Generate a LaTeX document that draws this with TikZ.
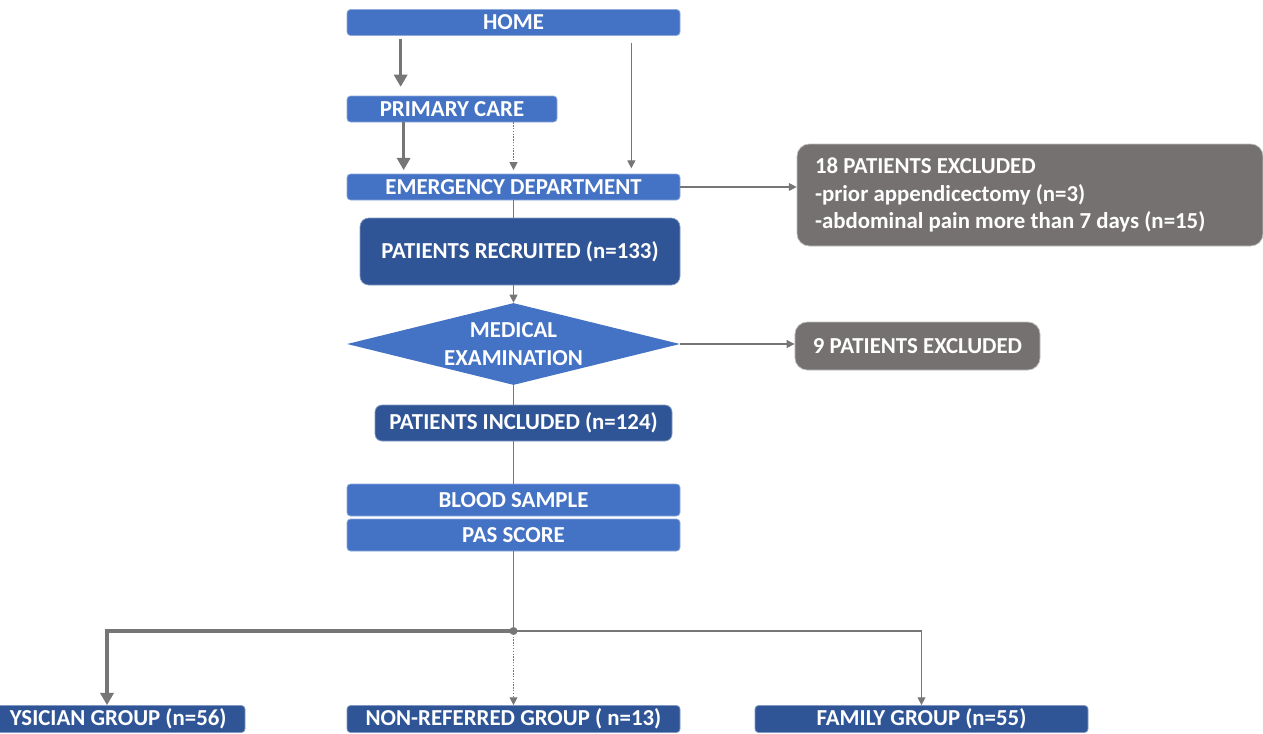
\documentclass[tikz,border=0pt]{standalone}
\usepackage{fontspec}
\setmainfont{Carlito}
\usetikzlibrary{positioning,shapes.geometric,arrows.meta}
\definecolor{stageblue}{HTML}{4472C4}
\definecolor{groupblue}{HTML}{2F5597}
\definecolor{exclgray}{HTML}{767171}
\definecolor{linegray}{HTML}{767676}
\providecommand\mytextsize{\fontsize{13}{15.5}\selectfont}

\begin{document}
\begin{tikzpicture}[on grid, font=\bfseries\mytextsize]
  \tikzstyle{stage} = [rectangle, draw=stageblue!60!white, fill=stageblue, text=white, rounded corners=2pt,
                                    minimum width=6.66cm, minimum height=0.52cm, inner sep=0pt]
  \tikzstyle{group} = [stage, draw=groupblue!60!white, fill=groupblue]
  \tikzstyle{decision} = [diamond, aspect=4, fill=stageblue, text=white, align=center,
                                    minimum width=6.66cm, minimum height=1.64cm, inner sep=0pt]
  \tikzstyle{excluded} = [rectangle, draw=gray!50, fill=exclgray, text=white, rounded corners=7pt,
                                    inner xsep=0.36cm, inner ysep=0pt]
  \tikzstyle{flow} = [draw=linegray, line width=0.6pt, -{Triangle[width=4.5pt,length=4.5pt]}]
  \tikzstyle{mainflow} = [draw=linegray, line width=1.8pt, -{Triangle[width=7.5pt,length=7pt]}]
  \tikzstyle{link} = [draw=linegray, line width=0.6pt]
  \tikzstyle{dots} = [dash pattern=on 0.8pt off 0.8pt]
\useasboundingbox (0,0) rectangle (25.26,-14.66);
\clip (0,0) rectangle (25.26,-14.66);
\node[stage](home) at (10.27,-0.45){HOME};
\node[stage, minimum width=4.2cm, below left=1.73cm and 1.23cm of home](primary){PRIMARY CARE};
\node[stage, below right=1.56cm and 1.23cm of primary](ed){EMERGENCY DEPARTMENT};
\node[group, rounded corners=5pt, minimum width=6.4cm, minimum height=1.34cm, below right=1.29cm and 0.13cm of ed](recruited){PATIENTS RECRUITED (n=133)};
\node[decision, below=3.14cm of ed](exam){MEDICAL\\EXAMINATION};
\node[group, rounded corners=4pt, minimum width=5.94cm, minimum height=0.72cm, below right=1.58cm and 0.2cm of exam](included){PATIENTS INCLUDED (n=124)};
\node[stage, minimum height=0.64cm, below=3.12cm of exam](blood){BLOOD SAMPLE};
\node[stage, minimum height=0.64cm, below=0.7cm of blood](pas){PAS SCORE};
\coordinate[below=1.92cm of pas](split);
\node[group, minimum height=0.54cm, below=3.68cm of pas](nonref){NON-REFERRED GROUP ( n=13)};
\node[group, minimum width=5.64cm, minimum height=0.54cm, text width=4.9cm, align=flush right, inner xsep=0.37cm,
      left=8.19cm of nonref](physician){YSICIAN GROUP (n=56)};
\node[group, minimum height=0.54cm, right=8.16cm of nonref](family){FAMILY GROUP (n=55)};
\node[excluded, text width=8.6cm, minimum height=2.04cm, align=flush left, below right=0.16cm and 10.33cm of ed](excl1){18 PATIENTS EXCLUDED\\-prior appendicectomy (n=3)\\-abdominal pain more than 7 days (n=15)};
\node[excluded, minimum width=4.82cm, minimum height=0.96cm, below right=0.04cm and 8.08cm of exam](excl2){9 PATIENTS EXCLUDED};
\coordinate (hp) at ([xshift=1.08cm]primary.north west);
\coordinate (pe) at ([xshift=1.14cm]primary.south west);
\coordinate (he) at ([xshift=-0.98cm]home.south east);
\draw[mainflow, shorten <=2pt, shorten >=5pt] (hp |- home.south) -- (hp);
\draw[flow, shorten <=4pt, shorten >=3pt] (he) -- (he |- ed.north);
\draw[mainflow, shorten >=2pt] (pe) -- (pe |- ed.north);
\draw[flow, dots, shorten >=2pt] (ed.north |- primary.south) -- (ed.north);
\draw[flow] (ed.east) -- (ed.east -| excl1.west);
\draw[link] (ed.south) -- (ed.south |- recruited.north);
\draw[flow] (exam.north |- recruited.south) -- (exam.north);
\draw[flow] (exam.east) -- (exam.east -| excl2.west);
\draw[link] (exam.south) -- (exam.south |- included.north);
\draw[link] (blood.north |- included.south) -- (blood.north);
\draw[link] (pas.south) -- (split);
\draw[mainflow] (split) -| ([xshift=0.06cm]physician.north);
\draw[flow, dots] (split) -- (nonref.north);
\draw[flow] (split) -| (family.north);
\fill[linegray] (split) circle (0.08cm);
\end{tikzpicture}
\end{document}
